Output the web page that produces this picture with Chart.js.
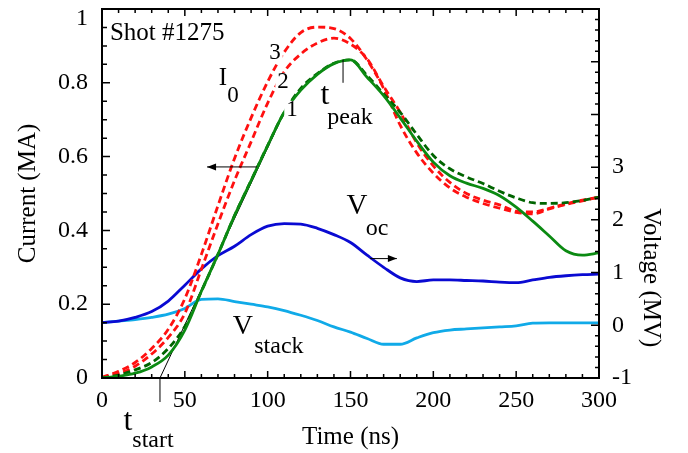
<!DOCTYPE html>
<html>
<head>
<meta charset="utf-8">
<script src="https://cdn.jsdelivr.net/npm/chart.js@4.4.0/dist/chart.umd.min.js"></script>
<style>
  html, body { margin: 0; padding: 0; background: #fff; }
  canvas { display: block; }
</style>
</head>
<body>
<canvas id="shot-chart" width="688" height="453"></canvas>
<script>
// time base (ns) shared by all traces
var timeNs = [0, 10, 20, 30, 40, 50, 60, 70, 80, 90, 100, 110, 120, 130, 140, 150,
              160, 170, 180, 190, 200, 210, 220, 230, 240, 250, 260, 270, 280, 290, 300];

// currents (MA)
var currentMeasured = [0, 0.005, 0.013, 0.03, 0.062, 0.13, 0.235, 0.335, 0.44, 0.535, 0.63,
                       0.72, 0.78, 0.823, 0.852, 0.862, 0.815, 0.765, 0.705, 0.642, 0.585,
                       0.548, 0.528, 0.514, 0.494, 0.463, 0.425, 0.385, 0.345, 0.333, 0.339];
var currentModel1 = [0, 0.008, 0.022, 0.042, 0.08, 0.14, 0.235, 0.335, 0.44, 0.535, 0.63,
                     0.72, 0.785, 0.825, 0.853, 0.862, 0.82, 0.77, 0.72, 0.66, 0.603,
                     0.567, 0.545, 0.527, 0.506, 0.488, 0.475, 0.473, 0.475, 0.481, 0.49];
var currentModel2 = [0.001, 0.012, 0.032, 0.065, 0.11, 0.175, 0.295, 0.418, 0.535, 0.64, 0.745,
                     0.83, 0.878, 0.908, 0.921, 0.905, 0.865, 0.79, 0.72, 0.637, 0.575,
                     0.53, 0.5, 0.482, 0.469, 0.452, 0.45, 0.46, 0.472, 0.482, 0.49];
var currentModel3 = [0.002, 0.018, 0.042, 0.08, 0.132, 0.215, 0.335, 0.467, 0.595, 0.705, 0.803,
                     0.883, 0.936, 0.951, 0.947, 0.92, 0.862, 0.785, 0.685, 0.61, 0.555,
                     0.515, 0.49, 0.473, 0.46, 0.449, 0.445, 0.458, 0.47, 0.48, 0.49];

// voltages (MV)
var voltageOc = [0.05, 0.08, 0.15, 0.26, 0.46, 0.76, 1.07, 1.32, 1.5, 1.72, 1.88,
                 1.93, 1.92, 1.84, 1.72, 1.57, 1.33, 1.1, 0.9, 0.83, 0.86,
                 0.86, 0.85, 0.84, 0.82, 0.81, 0.86, 0.91, 0.94, 0.96, 0.97];
var voltageStack = [0.05, 0.08, 0.11, 0.15, 0.21, 0.32, 0.49, 0.5, 0.45, 0.4, 0.35,
                    0.28, 0.19, 0.09, -0.03, -0.13, -0.25, -0.36, -0.36, -0.24, -0.14,
                    -0.09, -0.07, -0.05, -0.03, -0.01, 0.04, 0.045, 0.045, 0.045, 0.045];

// linear fit of the current rise, and the two time markers
var fitTime = [35, 109.5];
var fitCurrent = [0, 0.715];
var tStart = 35;
var tPeak = 145.5;
var tPeakCurrent = [0.862, 0.80];

// labelled ticks
var timeTickLabels = [0, 50, 100, 150, 200, 250, 300];
var currentTickLabels = [0, 0.2, 0.4, 0.6, 0.8, 1];
var voltageTickLabels = [-1, 0, 1, 2, 3];

var SERIF = "'Liberation Serif', 'Times New Roman', serif";

function pairs(xs, ys) {
  return xs.map(function (x, i) { return { x: x, y: ys[i] }; });
}
function isLabelled(v, list) {
  return list.some(function (l) { return Math.abs(l - v) < 1e-6; });
}

function line(label, ys, color, axis, dash) {
  return {
    label: label,
    data: pairs(timeNs, ys),
    borderColor: color,
    borderWidth: 2.8,
    borderDash: dash || [],
    pointRadius: 0,
    fill: false,
    cubicInterpolationMode: "monotone",
    yAxisID: axis,
  };
}

var decor = {
  id: "decor",
  afterDatasetsDraw: function (chart) {
    var ctx = chart.ctx, a = chart.chartArea;
    var sx = chart.scales.x, sy = chart.scales.y, sv = chart.scales.y1;
    ctx.save();

    // inward tick marks on all four sides
    ctx.strokeStyle = "#000";
    ctx.lineWidth = 1.5;
    ctx.beginPath();
    sx.ticks.forEach(function (t) {
      var px = sx.getPixelForValue(t.value);
      var len = t.label !== "" ? 7 : 4;
      ctx.moveTo(px, a.bottom); ctx.lineTo(px, a.bottom - len);
      ctx.moveTo(px, a.top); ctx.lineTo(px, a.top + len);
    });
    sy.ticks.forEach(function (t) {
      var py = sy.getPixelForValue(t.value);
      var len = t.label !== "" ? 8 : 5;
      ctx.moveTo(a.left, py); ctx.lineTo(a.left + len, py);
    });
    sv.ticks.forEach(function (t) {
      var py = sv.getPixelForValue(t.value);
      var len = Math.abs(t.value - Math.round(t.value)) < 1e-6 ? 8 : 4;
      ctx.moveTo(a.right, py); ctx.lineTo(a.right - len, py);
    });
    ctx.stroke();

    // frame
    ctx.lineWidth = 2;
    ctx.strokeRect(a.left, a.top, a.right - a.left, a.bottom - a.top);

    // t_start and t_peak markers
    ctx.lineWidth = 1;
    var xs = sx.getPixelForValue(tStart);
    ctx.beginPath();
    ctx.moveTo(xs, a.bottom); ctx.lineTo(xs, a.bottom + 24);
    var xp = sx.getPixelForValue(tPeak);
    ctx.moveTo(xp, sy.getPixelForValue(tPeakCurrent[0]));
    ctx.lineTo(xp, sy.getPixelForValue(tPeakCurrent[1]));
    ctx.stroke();

    // arrows pointing to the axis of each group
    function arrow(x1, y1, x2, y2) {
      var dir = x2 > x1 ? 1 : -1;
      ctx.beginPath();
      ctx.moveTo(x1, y1); ctx.lineTo(x2, y2);
      ctx.stroke();
      ctx.beginPath();
      ctx.moveTo(x2, y2);
      ctx.lineTo(x2 - dir * 9, y2 - 3.5);
      ctx.lineTo(x2 - dir * 9, y2 + 3.5);
      ctx.closePath();
      ctx.fill();
    }
    ctx.fillStyle = "#000";
    var ya = sy.getPixelForValue(0.572);
    arrow(sx.getPixelForValue(93.5), ya, sx.getPixelForValue(63.4), ya);
    var yb = sv.getPixelForValue(1.265);
    arrow(sx.getPixelForValue(161.8), yb, sx.getPixelForValue(178), yb);

    // texts
    function text(str, t, py, size, align, bg) {
      ctx.font = size + "px " + SERIF;
      ctx.textAlign = align || "center";
      ctx.textBaseline = "middle";
      var px = sx.getPixelForValue(t);
      if (bg) {
        var w = ctx.measureText(str).width;
        ctx.fillStyle = "#fff";
        ctx.fillRect(px - w / 2 - 2, py - size * 0.4, w + 4, size * 0.8);
      }
      ctx.fillStyle = "#000";
      ctx.fillText(str, px, py);
    }
    text("Shot #1275", 4.8, sy.getPixelForValue(0.935), 25, "left");
    text("I", 73, sy.getPixelForValue(0.813), 25);
    text("0", 79, sy.getPixelForValue(0.764), 23);
    text("3", 104.4, sy.getPixelForValue(0.881), 23, "center", true);
    text("2", 109.3, sy.getPixelForValue(0.802), 23, "center", true);
    text("1", 114.7, sy.getPixelForValue(0.726), 23, "center", true);
    text("t", 134.6, sy.getPixelForValue(0.764), 32);
    text("peak", 149.7, sy.getPixelForValue(0.705), 24);
    text("V", 153.9, sv.getPixelForValue(2.25), 29);
    text("oc", 166, sv.getPixelForValue(1.83), 24);
    text("V", 85.1, sy.getPixelForValue(0.138), 28);
    text("stack", 106.8, sy.getPixelForValue(0.084), 24);
    text("t", 15.7, sy.getPixelForValue(-0.117), 32);
    text("start", 30.8, sy.getPixelForValue(-0.171), 24);

    // right axis title, centred on the labelled part of the voltage axis
    ctx.save();
    ctx.translate(651, sv.getPixelForValue(0.9));
    ctx.rotate(Math.PI / 2);
    ctx.font = "25px " + SERIF;
    ctx.textAlign = "center";
    ctx.textBaseline = "middle";
    ctx.fillStyle = "#000";
    ctx.fillText("Voltage (MV)", 0, 0);
    ctx.restore();

    ctx.restore();
  },
};

var tickFont = { family: SERIF, size: 24, lineHeight: "19px" };

new Chart(document.getElementById("shot-chart").getContext("2d"), {
  type: "line",
  data: {
    datasets: [
      line("I0 measured", currentMeasured, "#0b8a12", "y"),
      line("I0 model 1", currentModel1, "#006400", "y", [7, 4]),
      line("I0 model 2", currentModel2, "#ff1010", "y", [7, 4]),
      line("I0 model 3", currentModel3, "#ff1010", "y", [7, 4]),
      line("Voc", voltageOc, "#0a0ad2", "y1"),
      line("Vstack", voltageStack, "#10aae8", "y1"),
      {
        label: "fit",
        data: pairs(fitTime, fitCurrent),
        borderColor: "#000",
        borderWidth: 1,
        pointRadius: 0,
        yAxisID: "y",
      },
    ],
  },
  options: {
    responsive: false,
    animation: false,
    layout: { padding: { top: 9, left: 0, right: 0, bottom: 0 } },
    plugins: { legend: { display: false }, tooltip: { enabled: false } },
    scales: {
      x: {
        type: "linear",
        min: 0,
        max: 300,
        grid: { display: false, drawTicks: false },
        border: { display: true, color: "#000", width: 2 },
        ticks: {
          stepSize: 10,
          autoSkip: false,
          maxRotation: 0,
          padding: 8,
          color: "#000",
          font: { family: SERIF, size: 24 },
          callback: function (v) { return isLabelled(v, timeTickLabels) ? String(Math.round(v)) : ""; },
        },
        title: {
          display: true,
          text: "Time (ns)",
          color: "#000",
          font: { family: SERIF, size: 25 },
          padding: { top: 0, bottom: 1 },
        },
        afterFit: function (s) { s.height = 75; s.paddingLeft = 0; s.paddingRight = 0; },
      },
      y: {
        position: "left",
        min: 0,
        max: 1,
        grid: { display: false, drawTicks: false },
        border: { display: true, color: "#000", width: 2 },
        ticks: {
          stepSize: 0.05,
          autoSkip: false,
          padding: 14,
          color: "#000",
          font: tickFont,
          callback: function (v) {
            if (!isLabelled(v, currentTickLabels)) return "";
            var s = String(parseFloat(v.toFixed(1)));
            return v > 0.99 ? ["", s] : s;
          },
        },
        title: {
          display: true,
          text: "Current (MA)",
          color: "#000",
          font: { family: SERIF, size: 25 },
          padding: { top: 13, bottom: 0 },
        },
        afterFit: function (s) { s.width = 102; s.paddingTop = 0; s.paddingBottom = 0; },
      },
      y1: {
        position: "right",
        min: -1,
        max: 6,
        grid: { display: false, drawTicks: false },
        border: { display: true, color: "#000", width: 2 },
        ticks: {
          stepSize: 0.2,
          autoSkip: false,
          padding: 13,
          color: "#000",
          font: { family: SERIF, size: 24 },
          callback: function (v) { return isLabelled(v, voltageTickLabels) ? String(Math.round(v)) : ""; },
        },
        afterFit: function (s) { s.width = 89; s.paddingTop = 0; s.paddingBottom = 0; },
      },
    },
  },
  plugins: [decor],
});
</script>
</body>
</html>
